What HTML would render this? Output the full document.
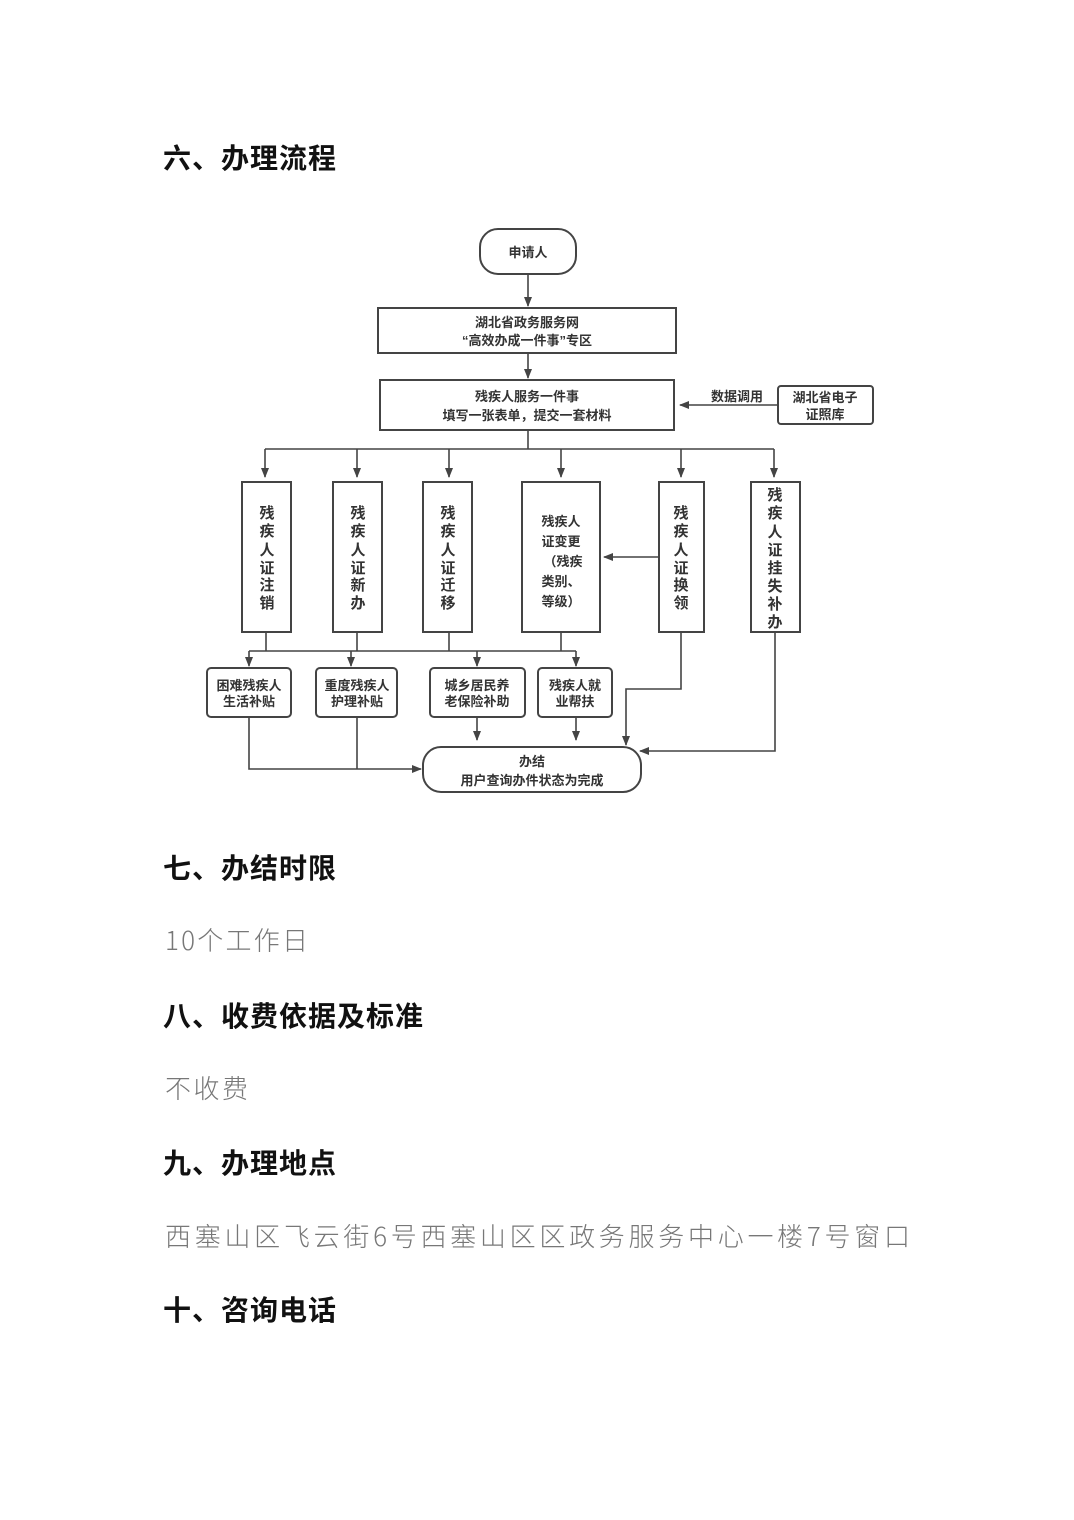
<!DOCTYPE html>
<html><head><meta charset="utf-8"><style>
html,body{margin:0;padding:0;background:#fff;}
svg{display:block;}
.h{font-family:"Noto Sans CJK SC","WenQuanYi Zen Hei",sans-serif;font-weight:bold;font-size:28px;fill:#111;}
.b{font-family:"Noto Sans CJK SC","WenQuanYi Zen Hei",sans-serif;font-weight:300;font-size:26px;fill:#777;}
.t{font-family:"Liberation Sans","Noto Sans CJK SC",sans-serif;font-weight:bold;font-size:13px;fill:#333;text-anchor:middle;}
.v{font-family:"Noto Sans CJK SC",sans-serif;font-weight:bold;font-size:15px;fill:#333;text-anchor:middle;}
</style></head><body>
<svg width="1074" height="1520" viewBox="0 0 1074 1520" xmlns="http://www.w3.org/2000/svg">
<defs><marker id="a" markerWidth="10" markerHeight="10" refX="9" refY="5" orient="auto" markerUnits="userSpaceOnUse"><path d="M0,1 L10,5 L0,9 z" fill="#444"/></marker></defs>
<text class="h" x="163" y="168" textLength="173">六、办理流程</text>
<text class="h" x="163" y="878" textLength="173">七、办结时限</text>
<text class="b" x="165" y="950" textLength="143">10个工作日</text>
<text class="h" x="163" y="1026" textLength="260">八、收费依据及标准</text>
<text class="b" x="165" y="1098" textLength="83">不收费</text>
<text class="h" x="163" y="1173" textLength="173">九、办理地点</text>
<text class="b" x="165" y="1246" textLength="745">西塞山区飞云街6号西塞山区区政务服务中心一楼7号窗口</text>
<text class="h" x="163" y="1320" textLength="173">十、咨询电话</text>

<g stroke="#444" stroke-width="2" fill="none">
<rect x="480" y="229" width="96" height="45" rx="18"/>
<rect x="378" y="308" width="298" height="45"/>
<rect x="380" y="380" width="294" height="50"/>
<rect x="778" y="386" width="95" height="38" rx="3"/>
<rect x="242" y="482" width="49" height="150"/>
<rect x="333" y="482" width="49" height="150"/>
<rect x="423" y="482" width="49" height="150"/>
<rect x="522" y="482" width="78" height="150"/>
<rect x="659" y="482" width="45" height="150"/>
<rect x="751" y="482" width="49" height="150"/>
<rect x="207" y="668" width="84" height="49" rx="4"/>
<rect x="316" y="668" width="81" height="49" rx="4"/>
<rect x="430" y="668" width="95" height="49" rx="4"/>
<rect x="538" y="668" width="74" height="49" rx="4"/>
<rect x="423" y="747" width="218" height="45" rx="18"/>
</g>
<g stroke="#444" stroke-width="1.6" fill="none">
<line x1="528" y1="274" x2="528" y2="306" marker-end="url(#a)"/>
<line x1="528" y1="353" x2="528" y2="378" marker-end="url(#a)"/>
<line x1="778" y1="405" x2="680" y2="405" marker-end="url(#a)"/>
<line x1="528" y1="430" x2="528" y2="449"/>
<line x1="265" y1="449" x2="774" y2="449"/>
<line x1="265" y1="449" x2="265" y2="477" marker-end="url(#a)"/>
<line x1="357" y1="449" x2="357" y2="477" marker-end="url(#a)"/>
<line x1="449" y1="449" x2="449" y2="477" marker-end="url(#a)"/>
<line x1="561" y1="449" x2="561" y2="477" marker-end="url(#a)"/>
<line x1="681" y1="449" x2="681" y2="477" marker-end="url(#a)"/>
<line x1="774" y1="449" x2="774" y2="477" marker-end="url(#a)"/>
<line x1="659" y1="557" x2="604" y2="557" marker-end="url(#a)"/>
<line x1="266" y1="632" x2="266" y2="651"/>
<line x1="357" y1="632" x2="357" y2="651"/>
<line x1="449" y1="632" x2="449" y2="651"/>
<line x1="561" y1="632" x2="561" y2="651"/>
<line x1="249" y1="651" x2="576" y2="651"/>
<line x1="249" y1="651" x2="249" y2="666" marker-end="url(#a)"/>
<line x1="351" y1="651" x2="351" y2="666" marker-end="url(#a)"/>
<line x1="477" y1="651" x2="477" y2="666" marker-end="url(#a)"/>
<line x1="576" y1="651" x2="576" y2="666" marker-end="url(#a)"/>
<polyline points="681,632 681,689 626,689 626,745" marker-end="url(#a)"/>
<polyline points="775,632 775,751 640,751" marker-end="url(#a)"/>
<line x1="477" y1="717" x2="477" y2="740" marker-end="url(#a)"/>
<line x1="576" y1="717" x2="576" y2="740" marker-end="url(#a)"/>
<polyline points="249,717 249,769 421,769" marker-end="url(#a)"/>
<line x1="357" y1="717" x2="357" y2="769"/>
</g>
<text class="t" x="528" y="257" font-size="14">申请人</text>
<text class="t" x="527" y="327">湖北省政务服务网</text>
<text class="t" x="527" y="345">“高效办成一件事”专区</text>
<text class="t" x="527" y="401">残疾人服务一件事</text>
<text class="t" x="527" y="420">填写一张表单，提交一套材料</text>
<text class="t" x="737" y="401" font-size="11">数据调用</text>
<text class="t" x="825" y="402">湖北省电子</text>
<text class="t" x="825" y="419">证照库</text>
<g class="v">
<text x="267" y="518">残</text><text x="267" y="536">疾</text><text x="267" y="555">人</text><text x="267" y="573">证</text><text x="267" y="590">注</text><text x="267" y="608">销</text>
<text x="358" y="518">残</text><text x="358" y="536">疾</text><text x="358" y="555">人</text><text x="358" y="573">证</text><text x="358" y="590">新</text><text x="358" y="608">办</text>
<text x="448" y="518">残</text><text x="448" y="536">疾</text><text x="448" y="555">人</text><text x="448" y="573">证</text><text x="448" y="590">迁</text><text x="448" y="608">移</text>
<text x="681" y="518">残</text><text x="681" y="536">疾</text><text x="681" y="555">人</text><text x="681" y="573">证</text><text x="681" y="590">换</text><text x="681" y="608">领</text>
<text x="775" y="500">残</text><text x="775" y="518">疾</text><text x="775" y="537">人</text><text x="775" y="555">证</text><text x="775" y="573">挂</text><text x="775" y="591">失</text><text x="775" y="609">补</text><text x="775" y="627">办</text>
</g>
<text class="t" x="561" y="526" font-size="14">残疾人</text>
<text class="t" x="561" y="546" font-size="14">证变更</text>
<text class="t" x="563" y="566" font-size="14">（残疾</text>
<text class="t" x="561" y="586" font-size="14">类别、</text>
<text class="t" x="561" y="606" font-size="14">等级）</text>
<text class="t" x="249" y="690" font-size="12">困难残疾人</text>
<text class="t" x="249" y="706" font-size="12">生活补贴</text>
<text class="t" x="357" y="690" font-size="12">重度残疾人</text>
<text class="t" x="357" y="706" font-size="12">护理补贴</text>
<text class="t" x="477" y="690" font-size="12">城乡居民养</text>
<text class="t" x="477" y="706" font-size="12">老保险补助</text>
<text class="t" x="575" y="690" font-size="12">残疾人就</text>
<text class="t" x="575" y="706" font-size="12">业帮扶</text>
<text class="t" x="532" y="766" font-size="14">办结</text>
<text class="t" x="532" y="785" font-size="14">用户查询办件状态为完成</text>
</svg>
</body></html>
